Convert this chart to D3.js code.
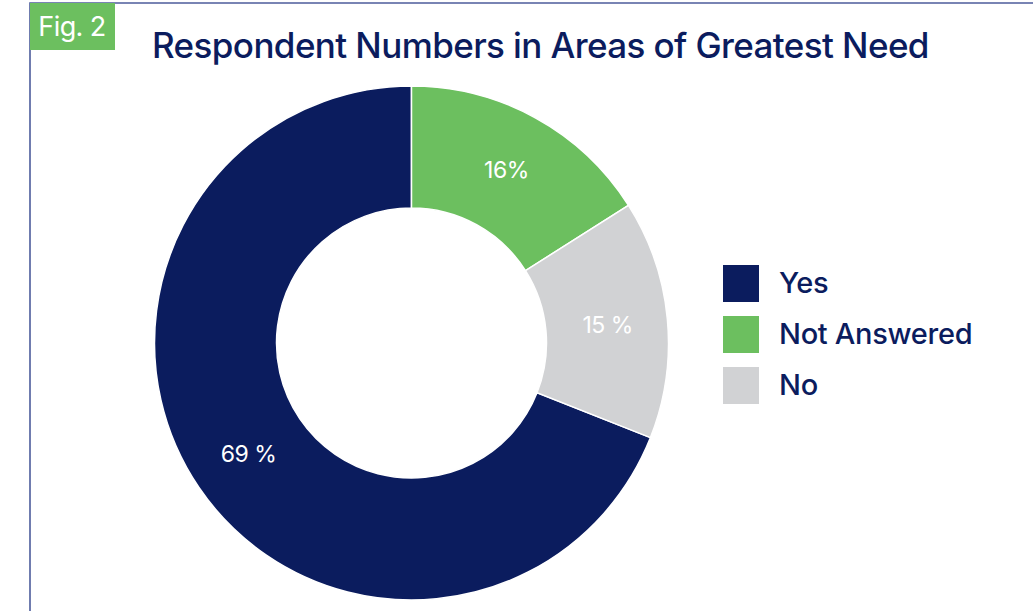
<!DOCTYPE html>
<html>
<head>
<meta charset="utf-8">
<script src="https://cdn.jsdelivr.net/npm/d3@7"></script>
<style>
  body { margin: 0; background: #fff; }
  svg { display: block; }
</style>
</head>
<body>
<svg></svg>
<script>
  var categories = ["Yes", "Not Answered", "No"];
  var values = [69, 16, 15];
  var valueLabels = ["69 %", "16%", "15 %"];
  var colors = ["#0b1c5e", "#6cbf5f", "#d1d2d4"];

  var svgWidth = 1033, svgHeight = 611;
  var navy = "#0b1c5e";
  var font = "Inter, 'Noto Sans', sans-serif";

  var svg = d3.select("svg")
     .attr("width", svgWidth)
     .attr("height", svgHeight);

  // frame lines (top + left)
  svg.append("path")
     .attr("d", "M30,611 V3 H1033")
     .attr("fill", "none")
     .attr("stroke", "#4d5c9c")
     .attr("stroke-width", 1.6);

  // Fig. 2 tag
  svg.append("rect")
     .attr("x", 30).attr("y", 3)
     .attr("width", 85).attr("height", 47)
     .attr("fill", "#6cbf5f");
  svg.append("text")
     .attr("x", 72).attr("y", 36)
     .attr("text-anchor", "middle")
     .attr("fill", "#fff")
     .attr("font-family", font)
     .attr("font-size", 27)
     .attr("letter-spacing", -0.6)
     .text("Fig. 2");

  svg.append("text")
     .attr("x", 152).attr("y", 58)
     .attr("fill", navy)
     .attr("font-family", font)
     .attr("font-weight", 500)
     .attr("font-size", 35)
     .attr("letter-spacing", -0.6)
     .text("Respondent Numbers in Areas of Greatest Need");

  var cx = 411.5, cy = 343;
  var outerR = 257, innerR = 135;
  var total = d3.sum(values);
  var start = -values[0] / total * 2 * Math.PI;

  var pie = d3.pie()
     .sort(null)
     .startAngle(start)
     .endAngle(start + 2 * Math.PI);

  var arcs = pie(values);

  var arc = d3.arc().innerRadius(innerR).outerRadius(outerR);
  var labelArc = d3.arc().innerRadius(197).outerRadius(197);

  var g = svg.append("g")
     .attr("transform", "translate(" + cx + "," + cy + ")");

  g.selectAll("path")
     .data(arcs)
     .enter()
     .append("path")
     .attr("d", arc)
     .attr("fill", function(d, i) { return colors[i]; })
     .attr("stroke", "#fff")
     .attr("stroke-width", 1.5);

  g.selectAll("text")
     .data(arcs)
     .enter()
     .append("text")
     .attr("transform", function(d) { return "translate(" + labelArc.centroid(d) + ")"; })
     .attr("text-anchor", "middle")
     .attr("dy", "0.35em")
     .attr("fill", "#fff")
     .attr("font-family", font)
     .attr("font-size", 23)
     .attr("letter-spacing", -0.5)
     .text(function(d, i) { return valueLabels[i]; });

  // legend
  var legend = svg.append("g")
     .attr("transform", "translate(723,265)");

  var item = legend.selectAll("g")
     .data(categories)
     .enter()
     .append("g")
     .attr("transform", function(d, i) { return "translate(0," + (i * 51) + ")"; });

  item.append("rect")
     .attr("width", 36).attr("height", 37)
     .attr("fill", function(d, i) { return colors[i]; });

  item.append("text")
     .attr("x", 56).attr("y", 18)
     .attr("dy", "0.35em")
     .attr("fill", navy)
     .attr("font-family", font)
     .attr("font-weight", 500)
     .attr("font-size", 29)
     .attr("letter-spacing", -0.3)
     .text(function(d) { return d; });
</script>
</body>
</html>
